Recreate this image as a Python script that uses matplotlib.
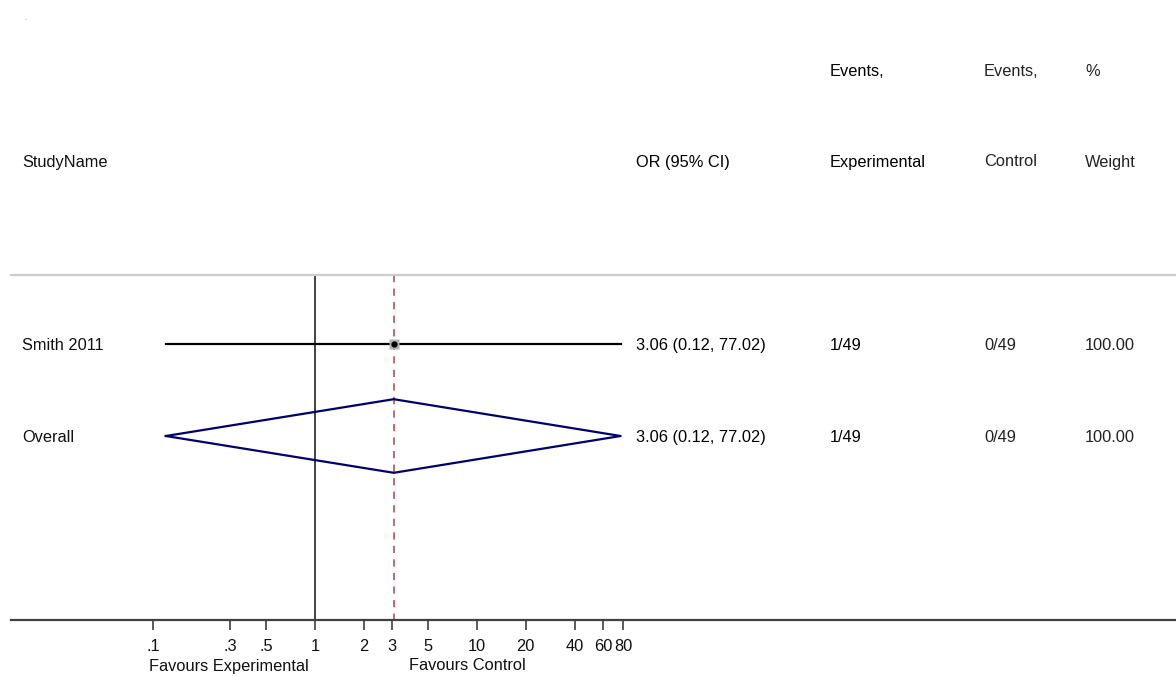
import matplotlib
matplotlib.use("Agg")
import matplotlib.pyplot as plt
import matplotlib.transforms as mtransforms

plt.rcParams['font.family'] = ['Liberation Sans', 'DejaVu Sans']

# ---- data ----
studies = ["Smith 2011", "Overall"]
or_est = [3.06, 3.06]
ci_low = [0.12, 0.12]
ci_high = [77.02, 77.02]
or_labels = ["3.06 (0.12, 77.02)", "3.06 (0.12, 77.02)"]
events_exp = ["1/49", "1/49"]
events_ctl = ["0/49", "0/49"]
weights = ["100.00", "100.00"]
tick_values = [0.1, 0.3, 0.5, 1, 2, 3, 5, 10, 20, 40, 60, 80]
tick_labels = [".1", ".3", ".5", "1", "2", "3", "5", "10", "20", "40", "60", "80"]

W, H = 1176, 676
fig = plt.figure(figsize=(W / 100, H / 100), dpi=100)

def fx(px):
    return px / W

def fy(py):
    return 1 - py / H

ax = fig.add_axes([fx(11), fy(620), 1 - fx(11), fy(275) - fy(620)])
ax.set_xscale('log')
ax.set_xlim(0.01328, 206500)
ax.set_ylim(4.0, 0.25)

rows = [1, 2]
fs = 11.8
toff = 0.02  # small vertical text offset in row units

# null line
ax.plot([1, 1], [0.25, 4.0], color='#222222', lw=1.2, zorder=2)
# overall effect dashed line
ax.plot([or_est[1], or_est[1]], [0.25, 4.0], color='#b5606a', lw=1.3,
        dashes=(4, 3.5), zorder=2)

# study CI
ax.plot([ci_low[0], ci_high[0]], [rows[0], rows[0]], color='black', lw=1.6, zorder=3)
ax.plot([or_est[0]], [rows[0]], marker='s', ms=7.5, color='#b0b0b0', mec='none', zorder=4)
ax.plot([or_est[0]], [rows[0]], marker='o', ms=3.5, color='black', zorder=5)

# overall diamond
dh = 0.4
ax.plot([ci_low[1], or_est[1], ci_high[1], or_est[1], ci_low[1]],
        [rows[1], rows[1] - dh, rows[1], rows[1] + dh, rows[1]],
        color='#000070', lw=1.6, zorder=3)

# spines
for s in ['left', 'right']:
    ax.spines[s].set_visible(False)
ax.spines['top'].set_color('#cccccc')
ax.spines['top'].set_linewidth(1.6)
ax.spines['bottom'].set_color('#404040')
ax.spines['bottom'].set_linewidth(1.6)
ax.set_yticks([])
ax.minorticks_off()
ax.set_xticks(tick_values)
ax.set_xticklabels(tick_labels, fontsize=fs)
ax.tick_params(axis='x', length=7, width=1.2, color='#404040', pad=6.5, labelcolor='#111111')
ax.xaxis.set_minor_locator(matplotlib.ticker.NullLocator())

# bottom favour labels
fig.text(fx(229), fy(666), "Favours Experimental", ha='center', va='center', fontsize=fs, color='#111111')
fig.text(fx(467), fy(666), "Favours Control", ha='center', va='center', fontsize=fs, color='#111111')

# headers
fig.text(fx(25), fy(19), ".", fontsize=6, color='#888888', ha='center', va='center')
fig.text(fx(22), fy(162), "StudyName", fontsize=fs, va='center', color='#111111')
fig.text(fx(636), fy(162), "OR (95% CI)", fontsize=fs, va='center', color='black')
fig.text(fx(830), fy(72), "Events,", fontsize=fs, va='center', color='black')
fig.text(fx(830), fy(162), "Experimental", fontsize=fs, va='center', color='black')
fig.text(fx(984), fy(72), "Events,", fontsize=fs, va='center', color='#222222')
fig.text(fx(984), fy(162), "Control", fontsize=fs, va='center', color='#222222')
fig.text(fx(1085), fy(72), "%", fontsize=fs, va='center', color='#222222')
fig.text(fx(1085), fy(162), "Weight", fontsize=fs, va='center', color='#222222')

trans = mtransforms.blended_transform_factory(fig.transFigure, ax.transData)
for r, name, orl, ee, ec, w in zip(rows, studies, or_labels, events_exp, events_ctl, weights):
    yy = r + toff
    ax.text(fx(22), yy, name, transform=trans, fontsize=fs, va='center', color='#111111')
    ax.text(fx(636), yy, orl, transform=trans, fontsize=fs, va='center', color='black')
    ax.text(fx(830), yy, ee, transform=trans, fontsize=fs, va='center', color='black')
    ax.text(fx(984), yy, ec, transform=trans, fontsize=fs, va='center', color='#222222')
    ax.text(fx(1085), yy, w, transform=trans, fontsize=fs, va='center', color='#222222')

fig.savefig("out.png", dpi=100, facecolor='white')
